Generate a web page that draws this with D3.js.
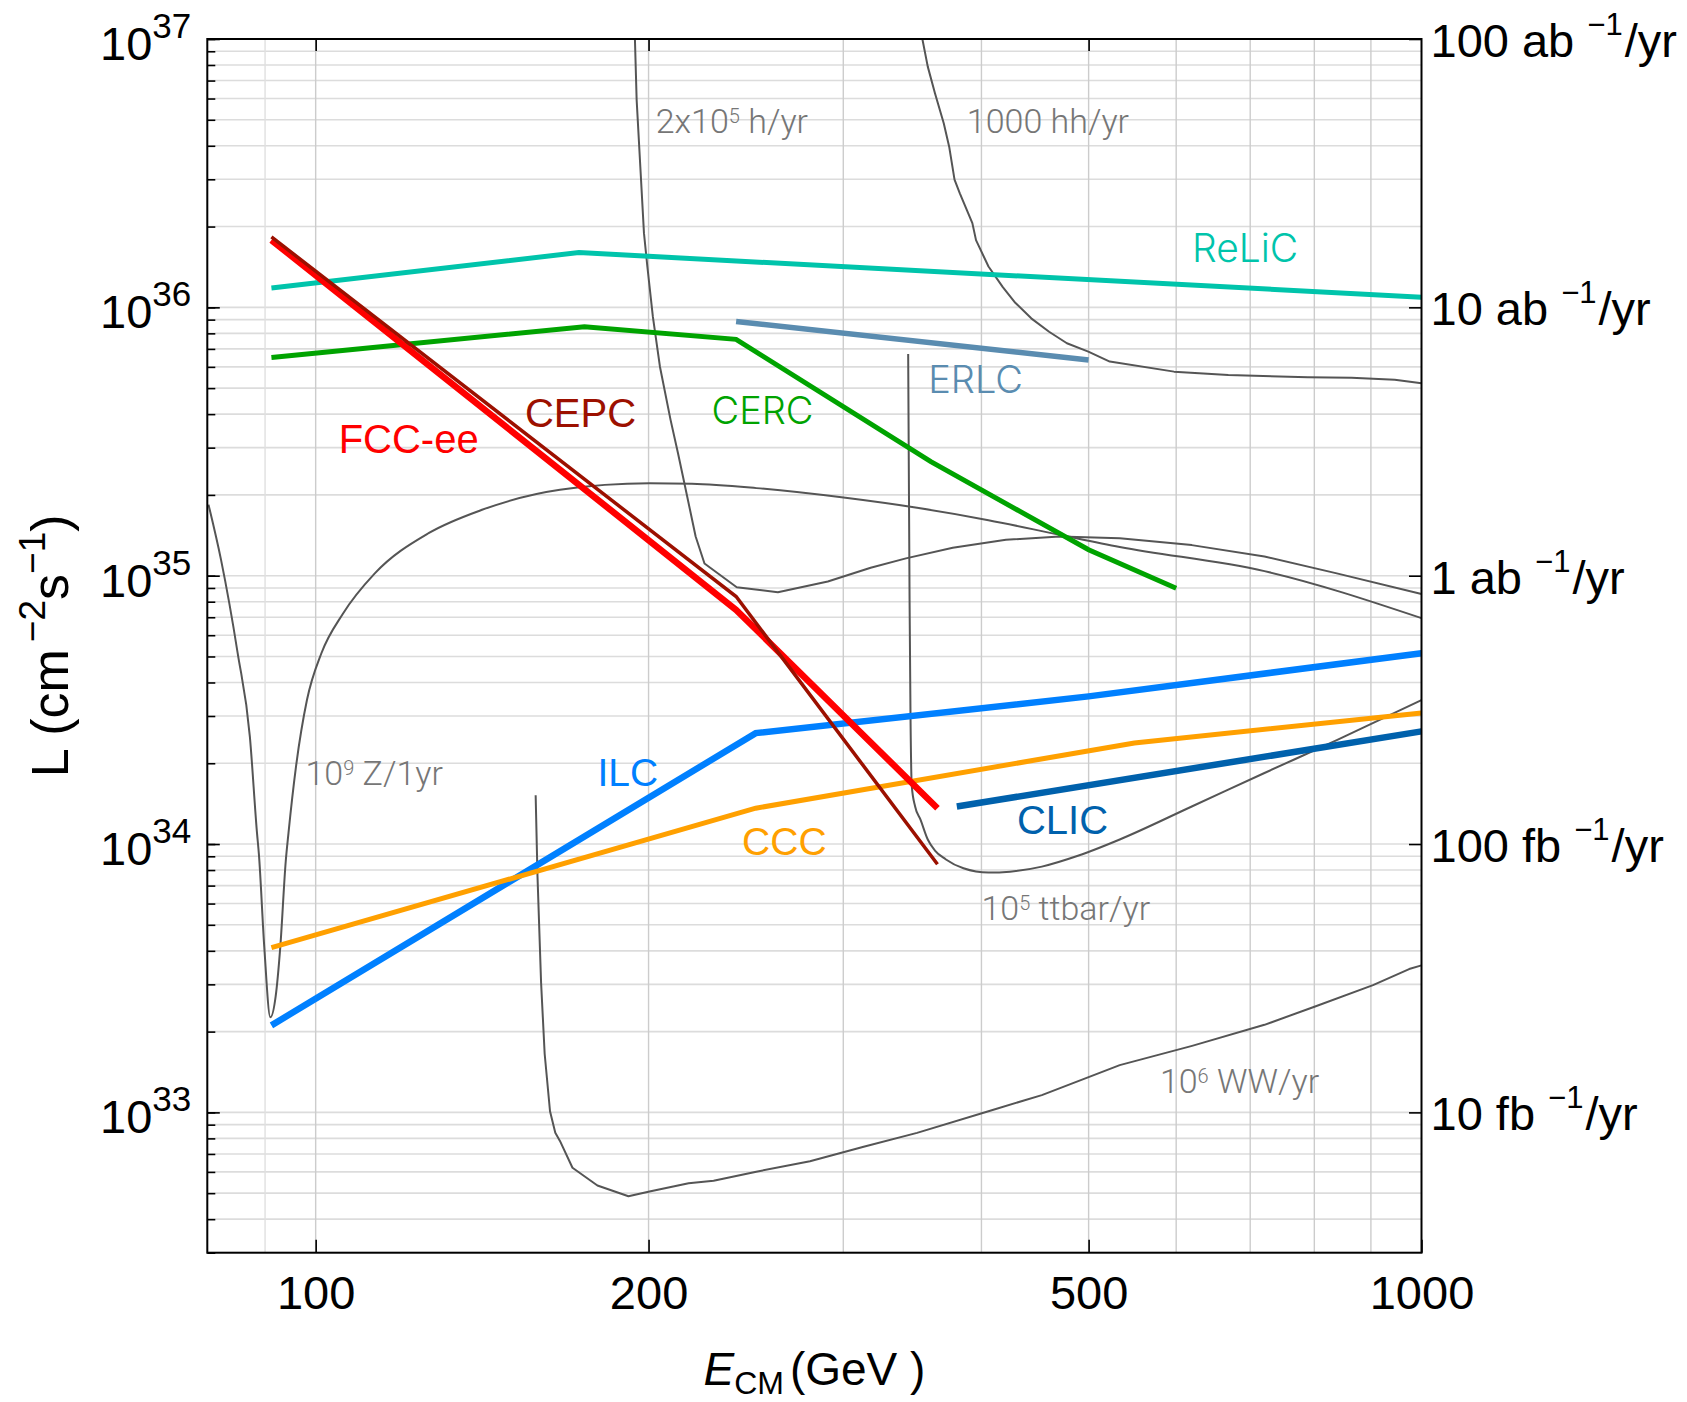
<!DOCTYPE html>
<html><head><meta charset="utf-8">
<script src="https://cdn.jsdelivr.net/npm/d3@7"></script>
<style>body{margin:0;background:#fff;}svg{display:block;}</style>
</head><body>
<svg id="c" width="1687" height="1402"></svg>
<script>
// ---------------- DATA ----------------
const xTickValues = [100, 200, 500, 1000];
const xTopTicks = [100, 200, 500];
const yMajor = [1e33, 1e34, 1e35, 1e36, 1e37];
const yMajorExp = ["33", "34", "35", "36", "37"];
const rightNum = ["10", "100", "1", "10", "100"];
const rightUnit = ["fb", "fb", "ab", "ab", "ab"];

// colliders (E_CM in GeV, L in cm^-2 s^-1)
const fccE = [91.2, 240, 365];            const fccL = [1.78e36, 7.46e34, 1.36e34];
const cepcE = [91.2, 240, 365];           const cepcL = [1.83e36, 8.36e34, 8.41e33];
const relicE = [91.2, 173, 1000];         const relicL = [1.18e36, 1.60e36, 1.09e36];
const cercE = [91.2, 175, 240, 360, 500, 600];
const cercL = [6.5e35, 8.47e35, 7.6e35, 2.66e35, 1.25e35, 8.98e34];
const erlcE = [240, 500];                 const erlcL = [8.86e35, 6.37e35];
const ilcE = [91.2, 250, 500, 1000];      const ilcL = [2.11e33, 2.59e34, 3.55e34, 5.14e34];
const cccE = [91.2, 250, 550, 1000];      const cccL = [4.11e33, 1.36e34, 2.38e34, 3.08e34];
const clicE = [380, 1000];                const clicL = [1.38e34, 2.63e34];

// physics contours
const zE = [80, 82.1, 85.0, 87.2, 88.5, 88.85, 89.85, 91.0, 92.0, 92.9, 93.96, 94.5, 96.0, 98.2, 101.2, 105.8, 113.1, 126.5, 141.4, 166.3, 200.4, 218.9, 250.3, 301.4, 349.8, 405.9, 470.9, 533.5, 721.1, 1000];
const zL = [1.84e35, 1.15e35, 5.16e34, 2.51e34, 1.10e34, 9.17e33, 4.14e33, 2.26e33, 2.70e33, 4.14e33, 8.63e33, 1.10e34, 1.95e34, 3.44e34, 5.14e34, 7.2e34, 1.02e35, 1.44e35, 1.76e35, 2.09e35, 2.21e35, 2.20e35, 2.12e35, 1.95e35, 1.79e35, 1.61e35, 1.42e35, 1.28e35, 1.04e35, 6.95e34];
const hE = [194.4, 195.1, 196.6, 198.1, 199.5, 201.8, 204.8, 209.4, 212.6, 215.8, 220.6, 224.7, 240.3, 261.8, 290.5, 317.6, 341.8, 376.8, 420.9, 470.9, 533.5, 619.8, 721.1, 838.3, 1000];
const hL = [1e37, 5.93e36, 3.34e36, 1.89e36, 1.42e36, 9.23e35, 6.01e35, 3.80e35, 2.87e35, 2.15e35, 1.40e35, 1.11e35, 9.06e34, 8.68e34, 9.51e34, 1.07e35, 1.16e35, 1.27e35, 1.36e35, 1.40e35, 1.38e35, 1.30e35, 1.18e35, 1.02e35, 8.55e34];
const hhE = [353.7, 357.7, 363.1, 369.8, 374.0, 378.2, 382.4, 392.5, 395.5, 405.9, 418.2, 429.2, 443.7, 460.5, 477.9, 499.7, 522.5, 597.3, 668.8, 789.3, 864.3, 945.9, 1000];
const hhL = [1e37, 7.89e36, 6.28e36, 4.85e36, 3.97e36, 2.99e36, 2.66e36, 2.06e36, 1.78e36, 1.42e36, 1.19e36, 1.04e36, 9.1e35, 8.11e35, 7.35e35, 6.84e35, 6.28e35, 5.76e35, 5.60e35, 5.49e35, 5.47e35, 5.37e35, 5.21e35];
const ttE = [343.4, 344.4, 345.1, 346.0, 348.4, 352.4, 357.7, 363.1, 371.2, 385.3, 405.9, 424.5, 453.6, 489.0, 533.5, 619.8, 721.1, 838.3, 1000];
const ttL = [6.7e35, 8.13e34, 2.90e34, 1.64e34, 1.38e34, 1.23e34, 1.04e34, 9.46e33, 8.78e33, 8.12e33, 7.83e33, 7.89e33, 8.24e33, 9.04e33, 1.04e34, 1.38e34, 1.84e34, 2.44e34, 3.44e34];
const wwE = [158.1, 158.7, 159.9, 161.1, 162.9, 164.7, 166.3, 170.7, 179.8, 191.8, 200.4, 217.4, 229.0, 250.3, 279.9, 313.0, 349.8, 405.9, 453.6, 533.5, 620.2, 721.1, 801.3, 904.0, 974.6, 1000];
const wwL = [1.52e34, 7.64e33, 3.04e33, 1.65e33, 1.01e33, 8.39e32, 7.83e32, 6.22e32, 5.34e32, 4.87e32, 5.07e32, 5.44e32, 5.56e32, 6.01e32, 6.58e32, 7.45e32, 8.39e32, 1.01e33, 1.16e33, 1.50e33, 1.77e33, 2.12e33, 2.48e33, 2.98e33, 3.42e33, 3.53e33];

// ---------------- LAYOUT ----------------
const M = {left: 207.3, top: 39, right: 1421.5, bottom: 1252.7};
const x = d3.scaleLog().domain([79.8, 1000]).range([M.left, M.right]);
const y = d3.scaleLog().domain([3e32, 1e37]).range([M.bottom, M.top]);
const svg = d3.select('#c');
const SANS = "'Liberation Sans', Arial, Helvetica, sans-serif";
const LIGHT = "Roboto, 'Liberation Sans', sans-serif";
const THIN = "Inter, Roboto, sans-serif";

svg.append('defs').append('clipPath').attr('id', 'clip')
  .append('rect').attr('x', M.left).attr('y', M.top)
  .attr('width', M.right - M.left).attr('height', M.bottom - M.top);

// grid
const grid = svg.append('g');
grid.selectAll('line.gh').data(y.ticks()).join('line').attr('class', 'gh')
  .attr('x1', M.left).attr('x2', M.right)
  .attr('y1', d => y(d)).attr('y2', d => y(d))
  .attr('stroke', '#dcdcdc').attr('stroke-width', 1.6);
grid.selectAll('line.gv').data(x.ticks().filter(d => d > 80 && d < 1000)).join('line').attr('class', 'gv')
  .attr('y1', M.top).attr('y2', M.bottom)
  .attr('x1', d => x(d)).attr('x2', d => x(d))
  .attr('stroke', d => d < 100 ? '#e0e0e0' : '#cccccc').attr('stroke-width', 1.4);

// axes ticks
function styleAxis(g) { g.select('.domain').remove(); g.selectAll('line').attr('stroke', '#000').attr('stroke-width', 1.6); }
svg.append('g').attr('transform', `translate(${M.left},0)`)
  .call(d3.axisLeft(y).tickValues(y.ticks()).tickSize(-8).tickFormat(''))
  .call(styleAxis);
svg.append('g').attr('transform', `translate(${M.left},0)`)
  .call(d3.axisLeft(y).tickValues(yMajor).tickSize(-12.5).tickFormat(''))
  .call(styleAxis);
svg.append('g').attr('transform', `translate(${M.right},0)`)
  .call(d3.axisRight(y).tickValues(yMajor).tickSize(-12.5).tickFormat(''))
  .call(styleAxis);
svg.append('g').attr('transform', `translate(0,${M.top})`)
  .call(d3.axisTop(x).tickValues(xTopTicks).tickSize(-12).tickFormat(''))
  .call(styleAxis);
svg.append('g').attr('transform', `translate(0,${M.bottom})`)
  .call(d3.axisBottom(x).tickValues(xTickValues).tickSize(-13).tickPadding(22.5).tickFormat(d3.format('d')))
  .call(styleAxis)
  .call(g => g.selectAll('text').attr('font-size', 47).attr('font-family', SANS).attr('fill', '#000'));

// left tick labels 10^n
const lt = svg.append('g').attr('font-family', SANS).attr('fill', '#000');
yMajor.forEach((v, i) => {
  const t = lt.append('text').attr('x', M.left - 16).attr('y', y(v) + 21).attr('text-anchor', 'end');
  t.append('tspan').attr('font-size', 47).text('10');
  t.append('tspan').attr('font-size', 35).attr('dy', -22).text(yMajorExp[i]);
});
// right tick labels
yMajor.forEach((v, i) => {
  const t = lt.append('text').attr('x', M.right + 9).attr('y', y(v) + 18);
  t.append('tspan').attr('font-size', 47).text(rightNum[i] + ' ' + rightUnit[i] + ' ');
  t.append('tspan').attr('font-size', 31).attr('dy', -22).text('\u22121');
  t.append('tspan').attr('font-size', 47).attr('dy', 22).attr('dx', 2).text('/yr');
});

// axis titles
const xt = svg.append('text').attr('x', (M.left + M.right) / 2).attr('y', 1385)
  .attr('text-anchor', 'middle').attr('font-family', SANS).attr('fill', '#000');
xt.append('tspan').attr('font-size', 46).attr('font-style', 'italic').text('E');
xt.append('tspan').attr('font-size', 32).attr('dy', 9).text('CM');
xt.append('tspan').attr('font-size', 46).attr('dy', -9).attr('dx', 6).text('(GeV )');

const yt = svg.append('text').attr('transform', `translate(68,${(M.top + M.bottom) / 2}) rotate(-90)`)
  .attr('text-anchor', 'middle').attr('font-family', SANS).attr('fill', '#000');
yt.append('tspan').attr('font-size', 52).text('L (cm');
yt.append('tspan').attr('font-size', 37).attr('dy', -23).attr('dx', 7).text('\u22122');
yt.append('tspan').attr('font-size', 52).attr('dy', 23).text('s');
yt.append('tspan').attr('font-size', 37).attr('dy', -23).text('\u22121');
yt.append('tspan').attr('font-size', 52).attr('dy', 23).text(')');

// lines
const lineLin = d3.line().x(d => x(d[0])).y(d => y(d[1]));
const lineSmooth = d3.line().x(d => x(d[0])).y(d => y(d[1])).curve(d3.curveMonotoneX);
const plot = svg.append('g').attr('clip-path', 'url(#clip)');
const zip = (a, b) => a.map((v, i) => [v, b[i]]);
const contours = [[zE, zL, lineSmooth], [hE, hL, lineLin], [hhE, hhL, lineLin], [ttE, ttL, lineSmooth], [wwE, wwL, lineLin]];
contours.forEach(([e, l, gen]) => plot.append('path').datum(zip(e, l)).attr('d', gen)
  .attr('fill', 'none').attr('stroke', '#555').attr('stroke-width', 2).attr('stroke-linejoin', 'round'));

const colliders = [
  {e: relicE, l: relicL, c: '#00c4ab', w: 5},
  {e: cercE, l: cercL, c: '#00a300', w: 5},
  {e: erlcE, l: erlcL, c: '#5a8cb0', w: 5.5},
  {e: ilcE, l: ilcL, c: '#0080ff', w: 6.5},
  {e: cccE, l: cccL, c: '#ffa000', w: 5},
  {e: clicE, l: clicL, c: '#0061ac', w: 6.5},
  {e: fccE, l: fccL, c: '#ff0000', w: 6.5},
  {e: cepcE, l: cepcL, c: '#9c1000', w: 3.5},
];
colliders.forEach(s => plot.append('path').datum(zip(s.e, s.l)).attr('d', lineLin)
  .attr('fill', 'none').attr('stroke', s.c).attr('stroke-width', s.w).attr('stroke-linejoin', 'miter'));

// frame
svg.append('rect').attr('x', M.left).attr('y', M.top).attr('width', M.right - M.left).attr('height', M.bottom - M.top)
  .attr('fill', 'none').attr('stroke', '#000').attr('stroke-width', 2);

// labels (anchored in data coordinates)
const labels = [
  {t: 'ReLiC', e: 620, l: 1.48e36, c: '#00c4ab', fs: 39, f: THIN, w: 300},
  {t: 'ERLC', e: 358, l: 4.79e35, c: '#5a8cb0', fs: 38, f: THIN, w: 300},
  {t: 'CERC', e: 228, l: 3.67e35, c: '#00a300', fs: 38, f: THIN, w: 300},
  {t: 'CEPC', e: 154.6, l: 3.58e35, c: '#9c1000', fs: 40, f: SANS, w: 400},
  {t: 'FCC-ee', e: 104.9, l: 2.87e35, c: '#ff0000', fs: 40, f: SANS, w: 400},
  {t: 'ILC', e: 179.8, l: 1.64e34, c: '#0080ff', fs: 39, f: SANS, w: 400},
  {t: 'CCC', e: 243, l: 9.1e33, c: '#ffa000', fs: 39, f: SANS, w: 400},
  {t: 'CLIC', e: 430.7, l: 1.09e34, c: '#0061ac', fs: 40, f: SANS, w: 400},
];
labels.forEach(d => svg.append('text').attr('x', x(d.e)).attr('y', y(d.l))
  .attr('font-family', d.f).attr('font-weight', d.w).attr('font-size', d.fs).attr('fill', d.c).text(d.t));

const notes = [
  {a: '2x10', s: '5', b: ' h/yr', e: 203, l: 4.48e36},
  {a: '', s: '', b: '1000 hh/yr', e: 388, l: 4.48e36},
  {a: '10', s: '9', b: ' Z/1yr', e: 97.9, l: 1.66e34},
  {a: '10', s: '5', b: ' ttbar/yr', e: 400, l: 5.19e33},
  {a: '10', s: '6', b: ' WW/yr', e: 580, l: 1.18e33},
];
notes.forEach(d => {
  const t = svg.append('text').attr('x', x(d.e)).attr('y', y(d.l))
    .attr('font-family', LIGHT).attr('font-weight', 300).attr('font-size', 34).attr('fill', '#767676');
  if (d.a) t.append('tspan').text(d.a);
  if (d.s) t.append('tspan').attr('font-size', 20).attr('dy', -10).text(d.s);
  t.append('tspan').attr('dy', d.s ? 10 : 0).text(d.b);
});
</script>
</body></html>
